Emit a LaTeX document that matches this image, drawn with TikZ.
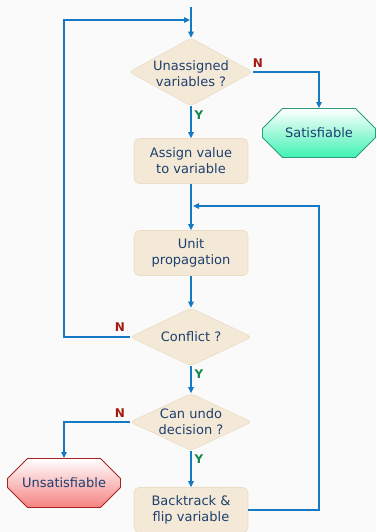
\documentclass[tikz,border=0pt]{standalone}
\usepackage{fontspec}
\setmainfont{DejaVu Sans}
\usetikzlibrary{shapes.geometric,shapes.misc,arrows.meta}
\definecolor{bg}{HTML}{FAFAFA}
\definecolor{boxfill}{HTML}{F4E9D6}
\definecolor{boxline}{HTML}{EBDDC6}
\definecolor{txt}{HTML}{1D3F6E}
\definecolor{arr}{HTML}{1679C4}
\definecolor{nred}{HTML}{A51A10}
\definecolor{ygreen}{HTML}{17864A}
\definecolor{satline}{HTML}{2A9C7C}
\definecolor{satfill}{HTML}{3FF2B2}
\definecolor{unsline}{HTML}{A52222}
\definecolor{unsfill}{HTML}{F58282}
\tikzset{
  x=1pt,y=-1pt,
  every node/.style={font=\fontsize{13}{16}\selectfont, text=txt, align=center},
  procbox/.style={rectangle, rounded corners=5pt, fill=boxfill, draw=boxline, line width=0.6pt,
    minimum width=114pt, minimum height=45pt, inner sep=0pt},
  decbox/.style={diamond, rounded corners=4pt, fill=boxfill, draw=boxline, line width=0.6pt,
    inner sep=0pt},
  endbox/.style={chamfered rectangle, chamfered rectangle xsep=26pt, chamfered rectangle ysep=15pt,
    minimum width=113pt, minimum height=49pt, inner sep=0pt, line width=0.9pt},
  flow/.style={draw=arr, line width=1.1pt, -{Triangle[length=6pt,width=5.5pt]}},
  nlab/.style={font=\fontsize{12}{14}\selectfont\bfseries, text=nred},
  ylab/.style={font=\fontsize{12}{14}\selectfont\bfseries, text=ygreen}
}
\begin{document}
\begin{tikzpicture}
\fill[bg] (0,0) rectangle (376,532);
\useasboundingbox (0,0) rectangle (376,532);

\coordinate (start) at (191,7);
\node[decbox, minimum width=124pt, minimum height=68pt] (d1) at (191,72) {};
\node (t1) at (191,74) {Unassigned\\variables ?};
\node[endbox, top color=white, bottom color=satfill, draw=satline] (sat) at (319,133) {Satisfiable};
\node[procbox] (b1) at (191,161) {Assign value\\to variable};
\node[procbox] (b2) at (191,253) {Unit\\propagation};
\node[decbox, minimum width=122pt, minimum height=58pt] (d2) at (191,337) {};
\node (t2) at (191,337) {Conflict ?};
\node[decbox, minimum width=122pt, minimum height=57pt] (d3) at (191,422) {};
\node (t3) at (191,422) {Can undo\\decision ?};
\node[endbox, top color=white, bottom color=unsfill, draw=unsline] (uns) at (64,483) {Unsatisfiable};
\node[procbox] (b3) at (191,510) {Backtrack \&\\flip variable};

\coordinate (jtop) at (191,20);
\coordinate (jmid) at (191,206);
\coordinate (lefttop) at (64,20);
\coordinate (rightbot) at (319,510);
\coordinate (righttop) at (319,206);

% main line
\draw[flow] (start) -- (d1.north);
\draw[flow] (d1.south) -- (b1.north);
\draw[flow] (b1.south) -- (b2.north);
\draw[flow] (b2.south) -- (d2.north);
\draw[flow] (d2.south) -- (d3.north);
\draw[flow] (d3.south) -- (b3.north);
% branches
\draw[flow] (d1.east) -| (sat.north);
\draw[flow] (d3.west) -| (uns.north);
\draw[flow] (d2.west) -| (lefttop) -- ([xshift=-1pt]jtop);
\draw[flow] (b3.east) -- (rightbot) -- (righttop) -- ([xshift=2pt]jmid);

% labels
\node[nlab] (n1) at (258,63) {N};
\node[ylab] (y1) at (199,115) {Y};
\node[nlab] (n2) at (120,327) {N};
\node[ylab] (y2) at (199,374) {Y};
\node[nlab] (n3) at (120,413) {N};
\node[ylab] (y3) at (199,459) {Y};
\end{tikzpicture}
\end{document}
